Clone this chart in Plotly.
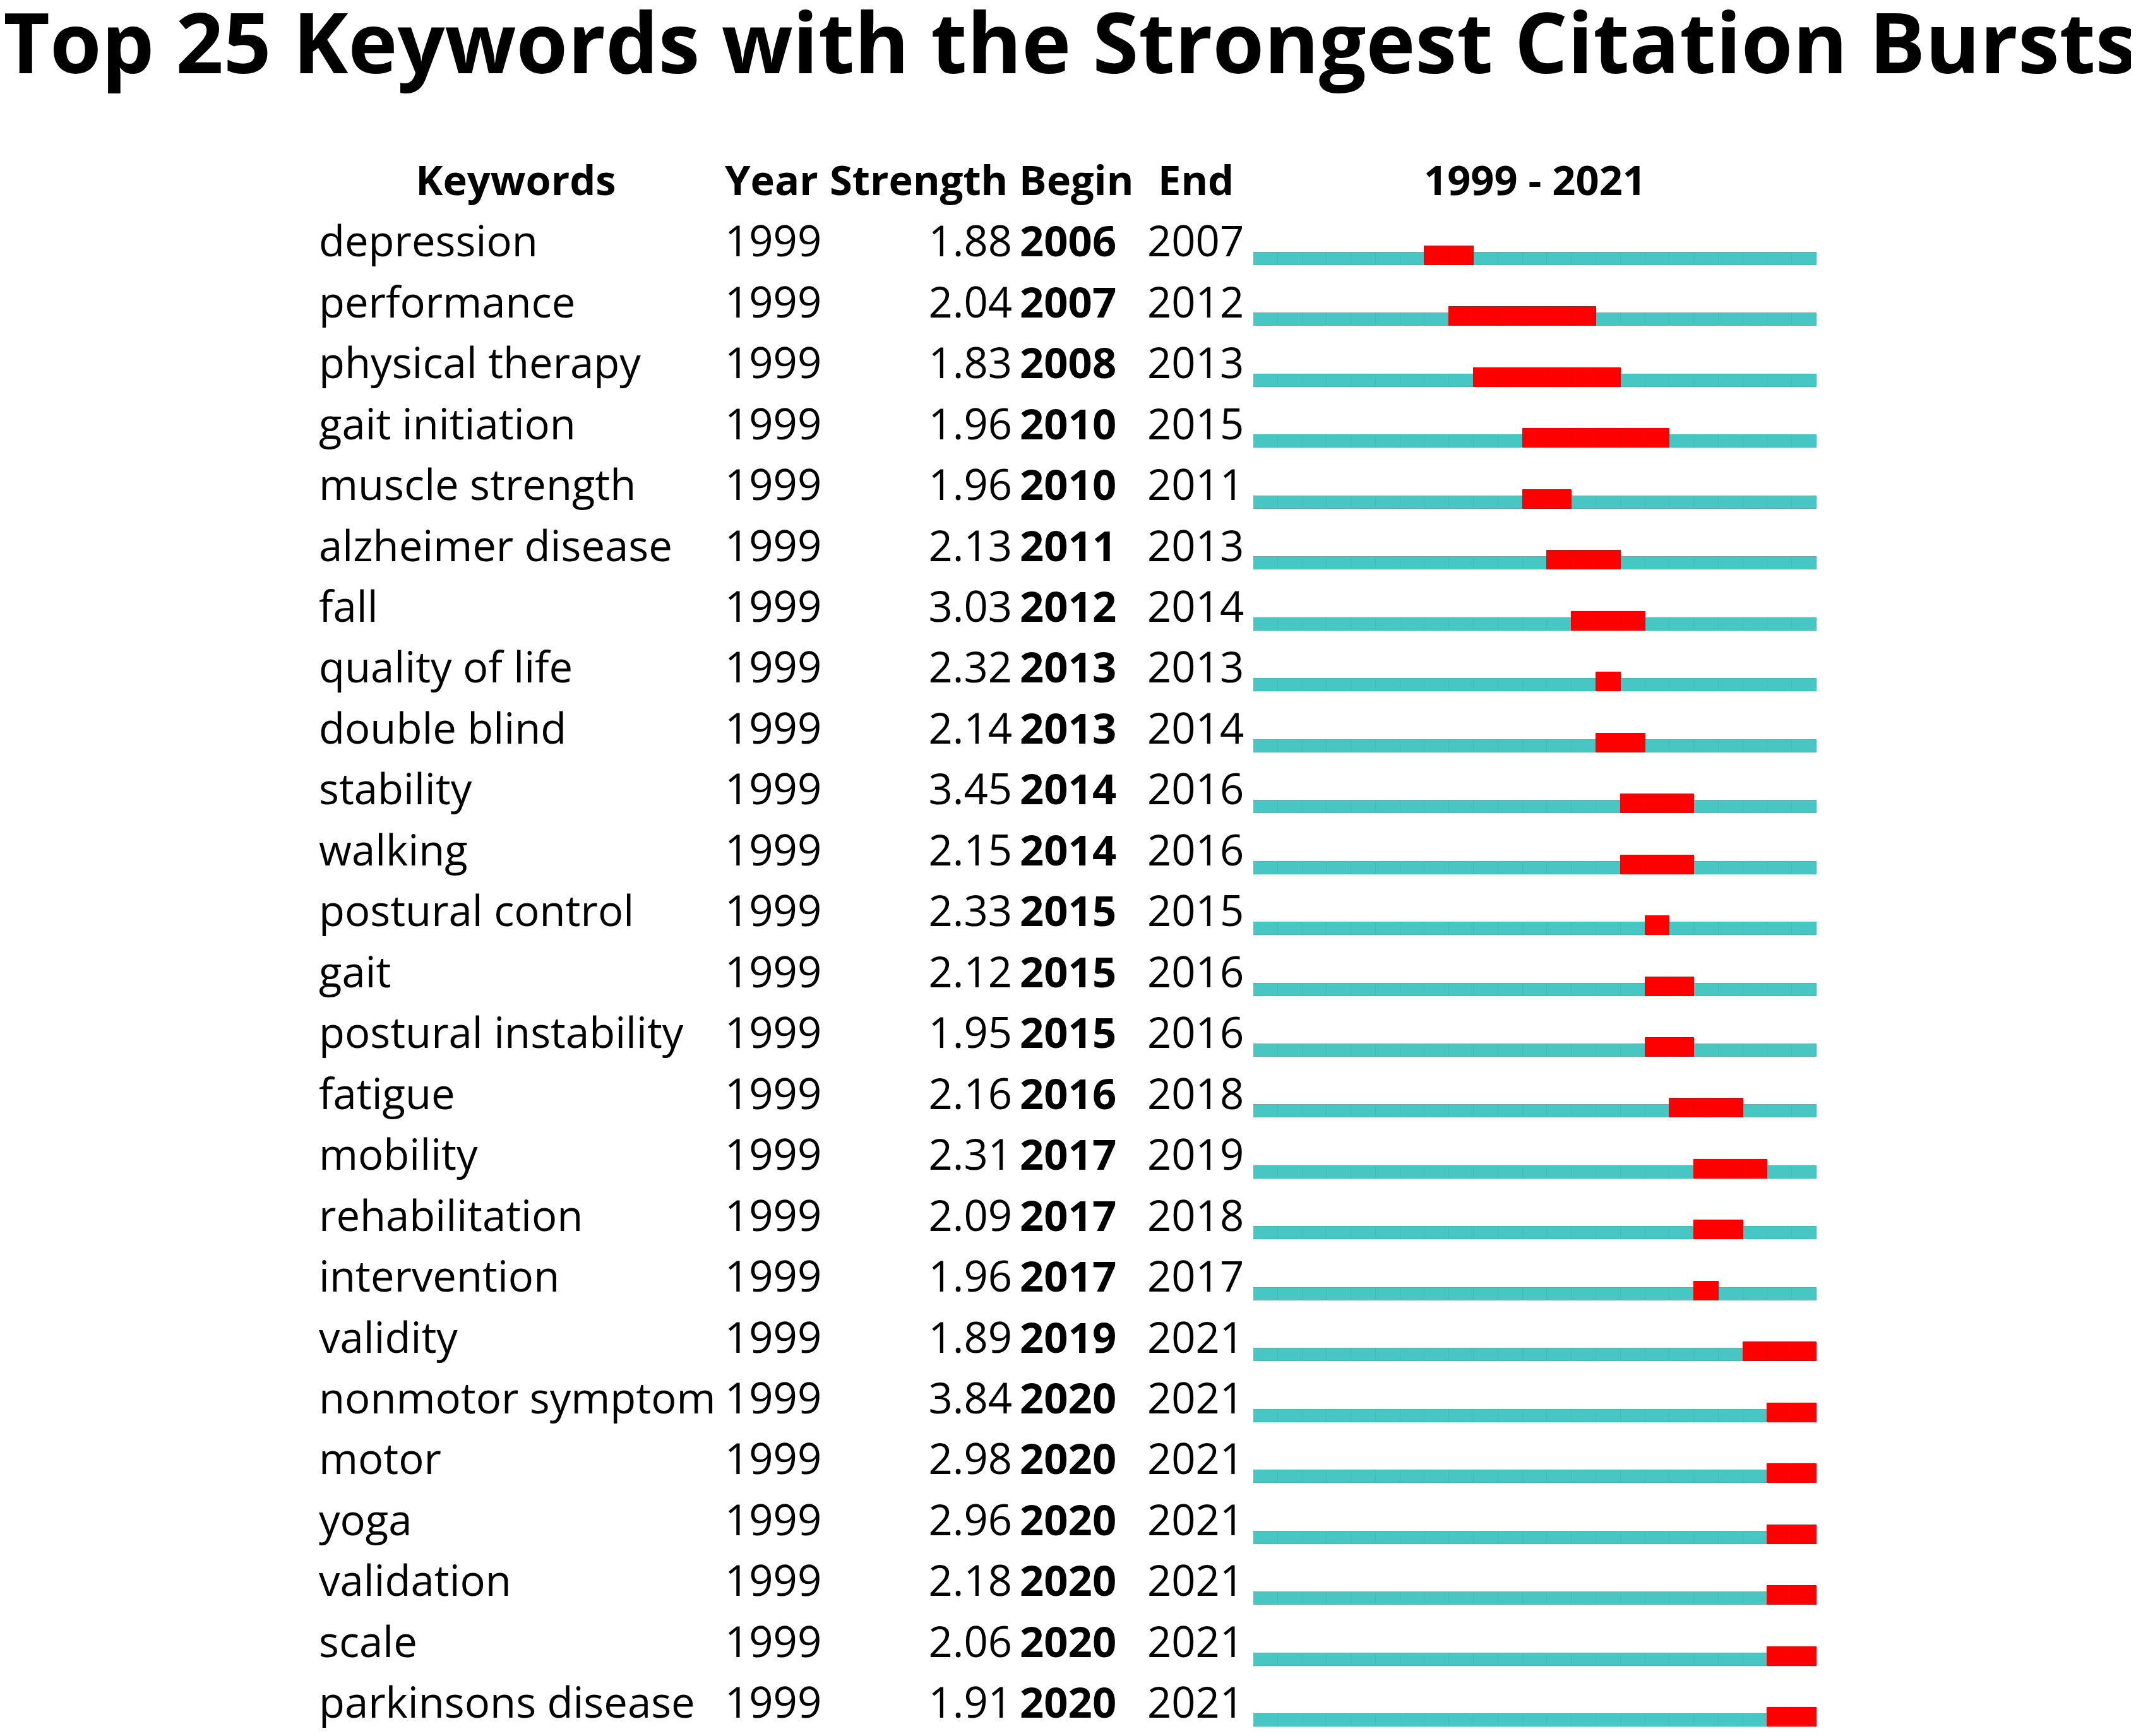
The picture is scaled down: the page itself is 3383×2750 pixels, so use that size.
import plotly.graph_objects as go

# burst table
keywords = ["depression", "performance", "physical therapy", "gait initiation",
            "muscle strength", "alzheimer disease", "fall", "quality of life",
            "double blind", "stability", "walking", "postural control", "gait",
            "postural instability", "fatigue", "mobility", "rehabilitation",
            "intervention", "validity", "nonmotor symptom", "motor", "yoga",
            "validation", "scale", "parkinsons disease"]
first_year = [1999] * 25
strength = [1.88, 2.04, 1.83, 1.96, 1.96, 2.13, 3.03, 2.32, 2.14, 3.45, 2.15, 2.33,
            2.12, 1.95, 2.16, 2.31, 2.09, 1.96, 1.89, 3.84, 2.98, 2.96, 2.18, 2.06, 1.91]
begin = [2006, 2007, 2008, 2010, 2010, 2011, 2012, 2013, 2013, 2014, 2014, 2015,
         2015, 2015, 2016, 2017, 2017, 2017, 2019, 2020, 2020, 2020, 2020, 2020, 2020]
end = [2007, 2012, 2013, 2015, 2011, 2013, 2014, 2013, 2014, 2016, 2016, 2015,
       2016, 2016, 2018, 2019, 2018, 2017, 2021, 2021, 2021, 2021, 2021, 2021, 2021]
start_year, end_year = 1999, 2021
headers = ["Keywords", "Year", "Strength", "Begin", "End", "1999 - 2021"]

W, H = 3383, 2750
FONT = "Open Sans"
TEAL = "rgb(72,198,196)"
RED = "rgb(255,0,0)"

# row geometry (pixels, y grows downward)
n = len(keywords)
row_bottom = [412 + i * 96.46 for i in range(n)]
text_y = [b - 30.5 for b in row_bottom]
head_y = 285

fig = go.Figure()

# timeline cells, one per year
years = list(range(start_year, end_year + 1))
teal_y, teal_base = [], []
red_y, red_base = [], []
for i in range(n):
    for yr in years:
        teal_y.append(row_bottom[i] - 10)
        teal_base.append(yr)
        if begin[i] <= yr <= end[i]:
            red_y.append(row_bottom[i] - 15)
            red_base.append(yr)

fig.add_trace(go.Bar(orientation="h", y=teal_y, base=teal_base, x=[1] * len(teal_y),
                     width=20, marker=dict(color=TEAL, line=dict(color="rgb(64,188,186)", width=1)),
                     xaxis="x2", yaxis="y", hoverinfo="skip"))
fig.add_trace(go.Bar(orientation="h", y=red_y, base=red_base, x=[1] * len(red_y),
                     width=30, marker=dict(color=RED, line=dict(color="rgb(238,0,0)", width=1)),
                     xaxis="x2", yaxis="y", hoverinfo="skip"))


def col(xpos, texts, pos, bold=False, size=67):
    fig.add_trace(go.Scatter(
        x=[xpos] * len(texts), y=text_y, mode="text", text=texts,
        textposition=pos, hoverinfo="skip", cliponaxis=False,
        textfont=dict(family=FONT, size=size, color="black",
                      weight="bold" if bold else "normal")))


col(497, keywords, "middle right")
col(1140, [str(v) for v in first_year], "middle right")
col(1595, ["%.2f" % v for v in strength], "middle left")
col(1607, [str(v) for v in begin], "middle right", bold=True)
col(1809, [str(v) for v in end], "middle right")

head_x = [809, 1140, 1306, 1606, 1826, 2423]
head_pos = ["middle center", "middle right", "middle right", "middle right",
            "middle right", "middle center"]
for hx, ht, hp in zip(head_x, headers, head_pos):
    fig.add_trace(go.Scatter(x=[hx], y=[head_y], mode="text", text=[ht], textposition=hp,
                             hoverinfo="skip", cliponaxis=False,
                             textfont=dict(family=FONT, size=65, color="black", weight="bold")))

fig.update_layout(
    width=W, height=H, autosize=False,
    margin=dict(l=0, r=0, t=0, b=0),
    paper_bgcolor="white", plot_bgcolor="rgba(0,0,0,0)",
    showlegend=False, barmode="overlay", bargap=0,
    title=dict(text="Top 25 Keywords with the Strongest Citation Bursts",
               x=0.5 - 6 / W, xanchor="center", xref="paper",
               y=1 - 62 / H, yanchor="middle", yref="container",
               font=dict(family=FONT, size=132, color="black", weight="bold")),
    xaxis=dict(range=[0, W], domain=[0, 1], visible=False, fixedrange=True),
    xaxis2=dict(range=[start_year, end_year + 1], domain=[1977 / W, 2869 / W],
                anchor="y", visible=False, fixedrange=True),
    yaxis=dict(range=[H, 0], domain=[0, 1], visible=False, fixedrange=True),
)

fig.write_html("out.html")
